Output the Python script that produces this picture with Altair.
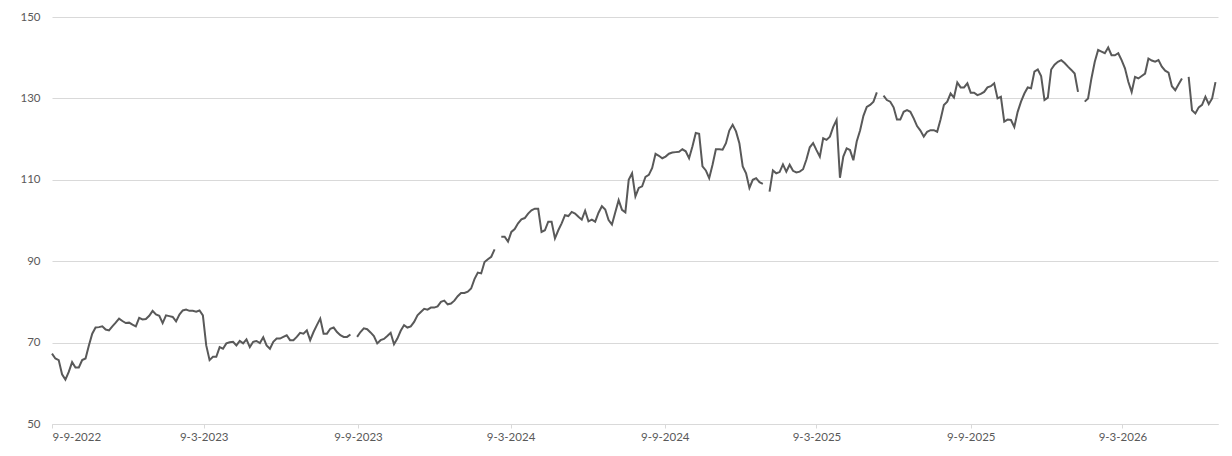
import altair as alt
import pandas as pd

# values, one every 4 days from 9-9-2022 (None = gap in the line)
seg_a = [67.3, 66.1, 65.7, 62.2, 60.9, 62.8, 65.2, 63.9, 63.9, 65.7,
         66.1, 69.3, 72.2, 73.7, 73.8, 74.0, 73.2, 73.0, 74.0, 74.9,
         75.9, 75.3, 74.8, 74.9, 74.4, 74.0, 76.1, 75.7, 75.8, 76.6,
         77.8, 76.9, 76.6, 74.8, 76.7, 76.5, 76.3, 75.2, 76.9, 77.9,
         78.1, 77.8, 77.8, 77.6, 77.9, 76.7, 69.3, 65.7, 66.5, 66.5,
         68.9, 68.5, 69.8, 70.1, 70.2, 69.3, 70.4]
seg_b = [69.8, 70.8, 68.9, 70.2, 70.4, 69.9, 71.3, 69.3, 68.5, 70.2,
         71.0, 71.0, 71.4, 71.8, 70.6, 70.6, 71.4, 72.4, 72.2, 73.0,
         70.6, 72.6, 74.3, 75.9, 72.2, 72.2, 73.4, 73.7, 72.6, 71.8,
         71.4, 71.4, 72.0, None, 71.4, 72.6, 73.5, 73.3, 72.5, 71.6,
         69.8, 70.6, 70.9, 71.6, 72.4, 69.6, 71.0, 72.9, 74.3, 73.7,
         74.0, 75.1, 76.7, 77.5, 78.3, 78.1, 78.6]
seg_c = [78.6, 78.9, 80.0, 80.3, 79.4, 79.6, 80.3, 81.4, 82.2, 82.2,
         82.5, 83.3, 85.6, 87.2, 87.0, 89.8, 90.5, 91.1, 92.9, None,
         96.0, 96.0, 94.8, 97.2, 97.9, 99.3, 100.3, 100.6, 101.7, 102.5,
         102.9, 102.9, 97.2, 97.6, 99.7, 99.7, 95.6, 97.6, 99.3, 101.3,
         101.1, 102.1, 101.7, 100.9, 100.2, 102.4, 99.8, 100.2, 99.7, 101.9,
         103.5, 102.7, 100.1, 99.0, 102.0, 105.0]
seg_d = [102.6, 102.0, 110.0, 111.6, 105.9, 108.0, 108.4, 110.7, 111.2, 112.9,
         116.4, 115.9, 115.3, 115.7, 116.4, 116.7, 116.8, 116.9, 117.5, 117.0,
         115.3, 118.2, 121.5, 121.3, 113.3, 112.3, 110.4, 113.7, 117.5, 117.5,
         117.4, 119.0, 122.1, 123.5, 121.9, 119.0, 113.3, 111.6, 108.0, 110.0,
         110.4, 109.4, 109.0, None, 107.1, 112.3, 111.6, 111.9, 113.8, 112.0,
         113.7, 112.2, 111.8, 112.0, 112.6, 115.0, 118.0]
seg_e = [119.0, 117.3, 115.7, 120.2, 119.8, 120.6, 123.0, 124.7, 110.5, 115.7,
         117.7, 117.3, 114.8, 119.4, 122.1, 125.7, 127.9, 128.4, 129.2, 131.5,
         None, 130.7, 129.6, 129.2, 127.8, 124.8, 124.8, 126.7, 127.1, 126.7,
         125.1, 123.2, 122.1, 120.6, 121.8, 122.2, 122.2, 121.8, 124.8, 128.4,
         129.2, 131.2, 130.2, 133.9, 132.7, 132.7, 133.7, 131.4, 131.4, 130.8,
         131.1, 131.6, 132.7, 133.0, 133.7, 130.0, 130.4]
seg_f = [124.3, 124.8, 124.7, 123.0, 126.7, 129.2, 131.2, 132.7, 132.5, 136.6,
         137.1, 135.5, 129.6, 130.2, 137.1, 138.3, 139.0, 139.4, 138.7, 137.8,
         137.0, 136.1, 131.6, None, 129.2, 130.0, 134.9, 139.0, 141.9, 141.5,
         141.1, 142.5, 140.6, 140.6, 141.1, 139.4, 137.4, 134.1, 131.6, 135.3,
         134.9, 135.5, 136.1, 139.8, 139.3, 139.0, 139.4, 137.8, 136.8, 136.3,
         133.0, 132.0, 133.5, 134.9, None, 135.3, 127.1, 126.3, 127.8, 128.4,
         130.4, 128.6, 130.0, 134.0]

values = seg_a + seg_b + seg_c + seg_d + seg_e + seg_f
start = pd.Timestamp("2022-09-09")
dates = [(start + pd.Timedelta(days=4 * i)).strftime("%Y-%m-%d") for i in range(len(values))]

tick_dates = [(2022, 9, 9), (2023, 3, 9), (2023, 9, 9), (2024, 3, 9),
              (2024, 9, 9), (2025, 3, 9), (2025, 9, 9), (2026, 3, 9)]
y_ticks = [50, 70, 90, 110, 130, 150]

df = pd.DataFrame({"date": dates, "value": values})

grey = "#595959"
light = "#d9d9d9"

chart = (
    alt.Chart(df)
    .mark_line(color=grey, strokeWidth=2, invalid="break-paths-show-domains")
    .encode(
        x=alt.X(
            "date:T",
            title=None,
            scale=alt.Scale(
                type="utc",
                domain=[alt.DateTime(year=2022, month=9, date=9, utc=True),
                        alt.DateTime(year=2026, month=7, date=1, utc=True)],
            ),
            axis=alt.Axis(
                values=[alt.DateTime(year=y, month=m, date=d, utc=True) for y, m, d in tick_dates],
                labelExpr="utcFormat(datum.value, '%-d-%-m-%Y')",
                grid=False,
                domainColor=light,
                tickColor=light,
                tickSize=4,
                labelPadding=3,
                labelColor=grey,
                labelFontSize=11.5,
                labelFont="Lato",
            ),
        ),
        y=alt.Y(
            "value:Q",
            title=None,
            scale=alt.Scale(domain=[50, 150]),
            axis=alt.Axis(
                values=y_ticks,
                grid=True,
                gridColor=light,
                domain=False,
                ticks=False,
                tickSize=0,
                labelPadding=12,
                labelColor=grey,
                labelFontSize=11.5,
                labelFont="Lato",
            ),
        ),
    )
    .properties(
        width=1166,
        height=407,
        autosize=alt.AutoSizeParams(type="none"),
        padding={"left": 44, "top": 9, "right": 6, "bottom": 24},
    )
    .configure_view(strokeWidth=0)
)

chart.save("out.html", embed_options={"renderer": "svg", "actions": False})
